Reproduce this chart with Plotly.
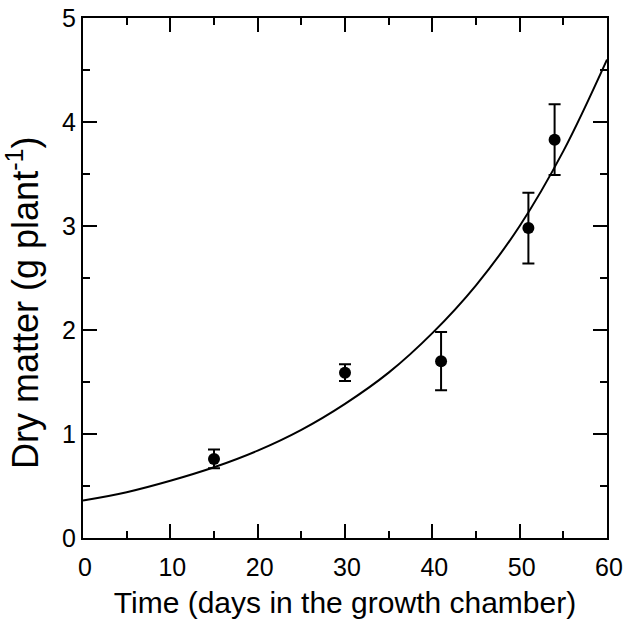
import plotly.graph_objects as go

# Measured data (mean ± error)
days = [15, 30, 41, 51, 54]
dry_matter = [0.76, 1.59, 1.70, 2.98, 3.83]
dry_matter_err = [0.09, 0.08, 0.28, 0.34, 0.34]

# Fitted growth curve
curve_days = [0, 5, 10, 15, 20, 25, 30, 35, 40, 45, 50, 55, 60]
curve_dry_matter = [0.36, 0.44, 0.55, 0.68, 0.84, 1.04, 1.29, 1.59, 1.97, 2.43, 3.00, 3.72, 4.60]

x_ticks = [0, 10, 20, 30, 40, 50, 60]
y_ticks = [0, 1, 2, 3, 4, 5]

x_title = "Time (days in the growth chamber)"
y_title = "Dry matter (g plant<sup>-1</sup>)"

FONT = "Liberation Sans, Arial, sans-serif"

fig = go.Figure()
fig.add_trace(go.Scatter(
    x=curve_days, y=curve_dry_matter, mode="lines",
    line=dict(color="black", width=2, shape="spline", smoothing=1.0),
    hoverinfo="skip", showlegend=False,
))
fig.add_trace(go.Scatter(
    x=days, y=dry_matter, mode="markers",
    marker=dict(color="black", size=12),
    error_y=dict(type="data", array=dry_matter_err, visible=True,
                 color="black", thickness=2, width=6),
    showlegend=False,
))

axis_common = dict(
    showline=True, linecolor="black", linewidth=2,
    mirror="allticks", ticks="inside", ticklen=14, tickwidth=2, tickcolor="black",
    showgrid=False, zeroline=False,
    tickfont=dict(family=FONT, size=25, color="black"),
)

fig.update_xaxes(
    range=[0, 60], tickvals=x_ticks, ticktext=[str(v) for v in x_ticks],
    minor=dict(dtick=5, tick0=0, ticks="inside", ticklen=7, tickwidth=2, tickcolor="black", showgrid=False),
    title=dict(text=x_title, font=dict(family=FONT, size=30, color="black"), standoff=12),
    ticklabelstandoff=6, ticklabelshift=2,
    **axis_common,
)
fig.update_yaxes(
    range=[0, 5], tickvals=y_ticks, ticktext=[str(v) for v in y_ticks],
    minor=dict(dtick=0.5, tick0=0, ticks="inside", ticklen=7, tickwidth=2, tickcolor="black", showgrid=False),
    ticklabelstandoff=0,
    **axis_common,
)

fig.add_annotation(
    text=y_title, textangle=-90, showarrow=False,
    xref="paper", yref="paper", x=0, y=0.452,
    xanchor="center", yanchor="middle", xshift=-60,
    font=dict(family=FONT, size=36, color="black"),
)

fig.update_layout(
    width=627, height=621,
    margin=dict(l=83, r=20, t=18, b=83, autoexpand=False),
    plot_bgcolor="white", paper_bgcolor="white",
    font=dict(family=FONT, color="black"),
)

fig.write_html(
    "out.html",
    config={"displayModeBar": False},
    post_script="document.body.style.margin='0';document.body.style.padding='0';",
)
